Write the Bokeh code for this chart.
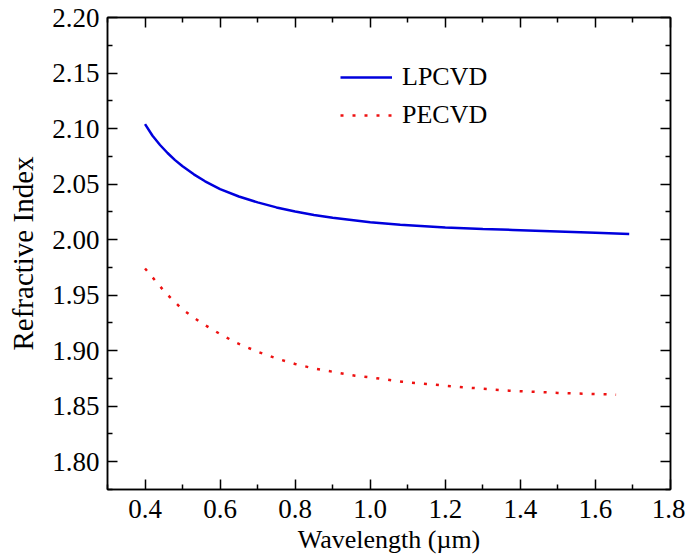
from bokeh.plotting import figure
from bokeh.models import LinearAxis, FixedTicker, Range1d, Legend, LegendItem, CustomJSTickFormatter
from bokeh.embed import file_html
from bokeh.resources import INLINE

# data
lp_x = [0.40, 0.42, 0.44, 0.46, 0.48, 0.50, 0.53, 0.56, 0.60, 0.65, 0.70, 0.75, 0.80, 0.85, 0.90, 1.00, 1.08, 1.20, 1.30, 1.38, 1.50, 1.60, 1.69]
lp_y = [2.104, 2.0935, 2.0852, 2.0780, 2.0716, 2.0660, 2.0588, 2.0525, 2.0455, 2.0388, 2.0335, 2.0290, 2.0253, 2.0222, 2.0196, 2.0157, 2.0134, 2.0110, 2.0096, 2.0087, 2.0073, 2.0061, 2.005]
pe_x = [0.40, 0.43, 0.455, 0.50, 0.55, 0.60, 0.644, 0.70, 0.75, 0.80, 0.85, 0.90, 0.96, 1.00, 1.085, 1.15, 1.25, 1.37, 1.50, 1.655]
pe_y = [1.974, 1.962, 1.952, 1.937, 1.925, 1.915, 1.907, 1.899, 1.893, 1.888, 1.884, 1.881, 1.8775, 1.876, 1.872, 1.870, 1.867, 1.864, 1.862, 1.8604]

x_ticks = [0.4, 0.6, 0.8, 1.0, 1.2, 1.4, 1.6, 1.8]
x_minor = [0.3, 0.5, 0.7, 0.9, 1.1, 1.3, 1.5, 1.7]
y_ticks = [1.80, 1.85, 1.90, 1.95, 2.00, 2.05, 2.10, 2.15, 2.20]
y_minor = [1.775, 1.825, 1.875, 1.925, 1.975, 2.025, 2.075, 2.125, 2.175]

FONT = "Times New Roman"

p = figure(output_backend="svg", toolbar_location=None,
           frame_width=563, frame_height=472,
           x_range=Range1d(0.3, 1.8), y_range=Range1d(1.775, 2.20),
           x_axis_location=None, y_axis_location=None,
           min_border_left=107, min_border_top=17, min_border_right=15, min_border_bottom=66)
p.grid.visible = False
p.outline_line_color = "black"
p.outline_line_width = 1.5
p.background_fill_color = "white"
p.border_fill_color = "white"

def style(ax, labels=True):
    ax.axis_line_width = 1.5
    ax.axis_line_color = "black"
    ax.major_tick_in = 10
    ax.major_tick_out = 0
    ax.minor_tick_in = 5
    ax.minor_tick_out = 0
    ax.major_tick_line_width = 1.5
    ax.minor_tick_line_width = 1.5
    ax.major_label_text_font = FONT
    ax.major_label_text_font_size = "27px"
    ax.major_label_text_color = "black" if labels else None
    ax.axis_label_text_font = FONT
    ax.axis_label_text_font_size = "26px"
    ax.axis_label_text_font_style = "normal"
    ax.axis_label_text_color = "black"

xb = LinearAxis(ticker=FixedTicker(ticks=x_ticks, minor_ticks=x_minor), axis_label="Wavelength (µm)")
style(xb)
xb.major_label_standoff = 10
xb.axis_label_standoff = 4
xb.formatter = CustomJSTickFormatter(code="return tick.toFixed(1);")
yl = LinearAxis(ticker=FixedTicker(ticks=y_ticks, minor_ticks=y_minor), axis_label="Refractive Index")
style(yl)
yl.axis_label_text_font_size = "29px"
yl.major_label_standoff = 8
yl.axis_label_standoff = 10
yl.formatter = CustomJSTickFormatter(code="return tick.toFixed(2);")
xt = LinearAxis(ticker=FixedTicker(ticks=x_ticks, minor_ticks=x_minor))
style(xt, labels=False)
xt.major_label_text_font_size = "0px"
yr = LinearAxis(ticker=FixedTicker(ticks=y_ticks, minor_ticks=y_minor))
style(yr, labels=False)
yr.major_label_text_font_size = "0px"

p.add_layout(xb, "below")
p.add_layout(yl, "left")
p.add_layout(xt, "above")
p.add_layout(yr, "right")

r1 = p.line(lp_x, lp_y, line_color="#0000dd", line_width=2.5)
r2 = p.line(pe_x, pe_y, line_color="#ee1111", line_width=2.5, line_dash="3 9")

legend = Legend(items=[LegendItem(label="LPCVD", renderers=[r1]),
                       LegendItem(label="PECVD", renderers=[r2])],
                location=(233, 359))
legend.border_line_color = None
legend.background_fill_alpha = 0
legend.label_text_font = FONT
legend.label_text_font_size = "26px"
legend.label_text_color = "black"
legend.glyph_width = 52
legend.glyph_height = 30
legend.label_height = 30
legend.spacing = 8
legend.padding = 0
legend.margin = 0
legend.label_standoff = 10
p.add_layout(legend, "center")

open("out.html", "w").write(file_html(p, INLINE))
